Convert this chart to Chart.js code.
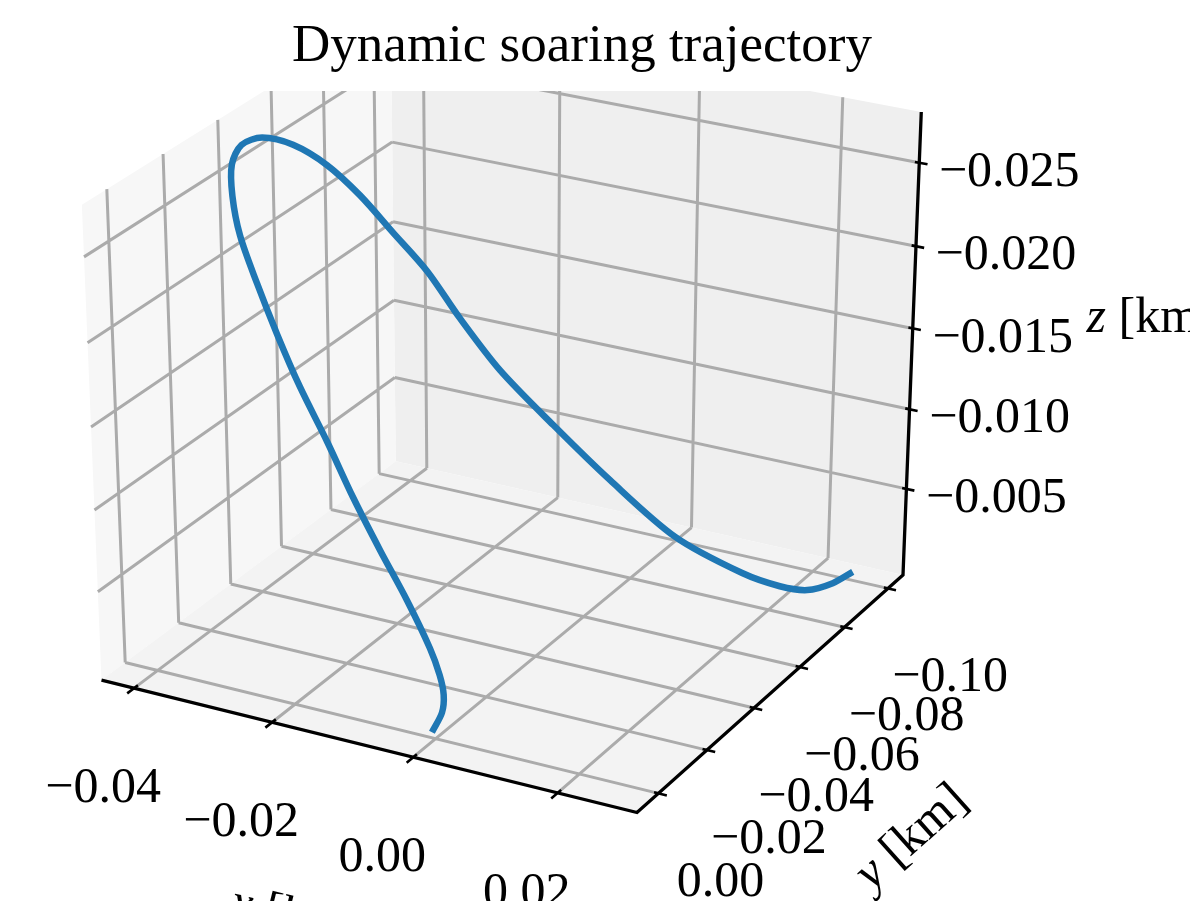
<!DOCTYPE html>
<html>
<head>
<meta charset="utf-8">
<title>Dynamic soaring trajectory</title>
<script src="https://cdn.jsdelivr.net/npm/chart.js@4.4.1/dist/chart.umd.min.js"></script>
<style>
  html, body { margin: 0; padding: 0; background: #ffffff; }
  #wrap { width: 1190px; height: 901px; }
</style>
</head>
<body>
<div id="wrap"><canvas id="chart" width="1190" height="901"></canvas></div>
<script>
// ===============================
// DYNAMIC SOARING TRAJECTORY – 3D LINE
// ===============================

// ---------- DATA (km) ----------
const trajX = [-0.0002, -0.0004, 0.0000, 0.0000, -0.0009, -0.0033, -0.0066, -0.0100, -0.0138, -0.0183,
               -0.0226, -0.0273, -0.0320, -0.0359, -0.0389, -0.0400, -0.0387, -0.0344, -0.0290, -0.0228,
               -0.0167, -0.0110, -0.0061, -0.0016, 0.0038, 0.0091, 0.0153, 0.0197, 0.0220, 0.0238,
               0.0252, 0.0266];
const trajY = [0.0009, -0.0036, -0.0032, -0.0017, -0.0005, 0.0015, 0.0025, 0.0032, 0.0023, 0.0002,
               -0.0031, -0.0083, -0.0146, -0.0221, -0.0298, -0.0363, -0.0406, -0.0409, -0.0394, -0.0351,
               -0.0309, -0.0283, -0.0272, -0.0302, -0.0359, -0.0436, -0.0529, -0.0686, -0.0784, -0.0852,
               -0.0924, -0.0970];
const trajZ = [0.0000, -0.0006, -0.0018, -0.0032, -0.0049, -0.0078, -0.0106, -0.0135, -0.0163, -0.0189,
               -0.0212, -0.0232, -0.0249, -0.0261, -0.0269, -0.0273, -0.0274, -0.0273, -0.0267, -0.0259,
               -0.0247, -0.0232, -0.0210, -0.0180, -0.0146, -0.0109, -0.0069, -0.0032, -0.0014, -0.0005,
               -0.0002, -0.0005];

// ---------- TICKS ----------
const xTicks = [-0.04, -0.02, 0.00, 0.02];
const yTicks = [0.00, -0.02, -0.04, -0.06, -0.08, -0.10];
const zTicks = [-0.025, -0.020, -0.015, -0.010, -0.005];
const xTickLabels = ["\u22120.04", "\u22120.02", "0.00", "0.02"];
const yTickLabels = ["0.00", "\u22120.02", "\u22120.04", "\u22120.06", "\u22120.08", "\u22120.10"];
const zTickLabels = ["\u22120.025", "\u22120.020", "\u22120.015", "\u22120.010", "\u22120.005"];

// axis box limits (y and z run reversed)
const xLim = [-0.0448, 0.0308];
const yLim = [0.0087, -0.107];
const zLim = [0.0005, -0.0280];

// ---------- VIEW ----------
const ELEV = 27.5, AZIM = -61.7, DIST = 10;
const er = ELEV * Math.PI / 180, ar = AZIM * Math.PI / 180;
const N = [Math.cos(er) * Math.cos(ar), Math.cos(er) * Math.sin(ar), Math.sin(er)];
const U = [-Math.sin(ar), Math.cos(ar), 0];
const V = [-Math.sin(er) * Math.cos(ar), -Math.sin(er) * Math.sin(ar), Math.cos(er)];
const dot = (a, b) => a[0] * b[0] + a[1] * b[1] + a[2] * b[2];

function project(x, y, z) {
  const q = [
    (x - xLim[0]) / (xLim[1] - xLim[0]) - 0.5,
    (y - yLim[0]) / (yLim[1] - yLim[0]) - 0.5,
    (z - zLim[0]) / (zLim[1] - zLim[0]) - 0.5
  ];
  const w = DIST - dot(N, q);
  return { x: dot(U, q) / w, y: dot(V, q) / w };
}

// where the box sits on the page (pixels)
const BOX_FRONT_X = 637, BOX_RIGHT_X = 903, BOX_TOP_Y = 112, BOX_BOTTOM_Y = 575;
const AREA_TOP = 91, W = 1190, H = 901;

const pFB = project(xLim[1], yLim[0], zLim[0]);
const pRB = project(xLim[1], yLim[1], zLim[0]);
const pRT = project(xLim[1], yLim[1], zLim[1]);
const SX = (BOX_RIGHT_X - BOX_FRONT_X) / (pRB.x - pFB.x);
const CX = BOX_FRONT_X - SX * pFB.x;
const SY = (BOX_BOTTOM_Y - BOX_TOP_Y) / (pRT.y - pRB.y);
const CY = BOX_TOP_Y + SY * pRT.y;

// ---------- GEOMETRY ----------
const GAP = { x: NaN, y: NaN };
function polyline(list) {
  const out = [];
  list.forEach((seg, i) => {
    if (i > 0) out.push(GAP);
    seg.forEach(p => out.push(project(p[0], p[1], p[2])));
  });
  return out;
}

const [x0, x1] = xLim, [y0, y1] = yLim, [z0, z1] = zLim;

const gridSegs = [];
xTicks.forEach(t => {
  gridSegs.push([[t, y0, z0], [t, y1, z0]]);
  gridSegs.push([[t, y1, z0], [t, y1, z1]]);
});
yTicks.forEach(t => {
  gridSegs.push([[x0, t, z0], [x1, t, z0]]);
  gridSegs.push([[x0, t, z0], [x0, t, z1]]);
});
zTicks.forEach(t => {
  gridSegs.push([[x0, y0, t], [x0, y1, t]]);
  gridSegs.push([[x0, y1, t], [x1, y1, t]]);
});

const dy = y1 - y0, dx = x1 - x0;
const tickSegs = [];
xTicks.forEach(t => tickSegs.push([[t, y0 + 0.012 * dy, z0], [t, y0 - 0.022 * dy, z0]]));
yTicks.forEach(t => tickSegs.push([[x1 - 0.008 * dx, t, z0], [x1 + 0.015 * dx, t, z0]]));
zTicks.forEach(t => tickSegs.push([[x1 - 0.008 * dx, y1, t], [x1 + 0.015 * dx, y1, t]]));

const axisSegs = [[[x0, y0, z0], [x1, y0, z0], [x1, y1, z0], [x1, y1, z1]]];

const floorPane = [[x0, y0, z0], [x1, y0, z0], [x1, y1, z0], [x0, y1, z0], [x0, y0, z0]];
const leftPane = [[x0, y0, z0], [x0, y1, z0], [x0, y1, z1], [x0, y0, z1], [x0, y0, z0]];
const backPane = [[x0, y1, z0], [x1, y1, z0], [x1, y1, z1], [x0, y1, z1], [x0, y1, z0]];

const curve = trajX.map((x, i) => project(x, trajY[i], trajZ[i]));

// ---------- TEXT ----------
const SERIF = "'Liberation Serif', 'Times New Roman', serif";
const TICK_FONT = "50px " + SERIF;

function drawParts(ctx, parts, cx, cy, angle) {
  ctx.save();
  ctx.translate(cx, cy);
  ctx.rotate(angle);
  ctx.textAlign = "left";
  ctx.textBaseline = "middle";
  let total = 0;
  const widths = parts.map(p => { ctx.font = p.font; const w = ctx.measureText(p.text).width; total += w; return w; });
  let x = -total / 2;
  parts.forEach((p, i) => { ctx.font = p.font; ctx.fillText(p.text, x, 0); x += widths[i]; });
  ctx.restore();
}

const textPlugin = {
  id: "axisText",
  afterDatasetsDraw(chart) {
    const ctx = chart.ctx;
    const sx = chart.scales.x, sy = chart.scales.y;
    const px = (x, y, z) => {
      const p = project(x, y, z);
      return [sx.getPixelForValue(p.x), sy.getPixelForValue(p.y)];
    };
    ctx.save();
    ctx.fillStyle = "#000000";
    ctx.font = TICK_FONT;
    ctx.textAlign = "center";
    ctx.textBaseline = "middle";

    xTicks.forEach((t, i) => {
      const [a, b] = px(t, y0, z0);
      ctx.fillText(xTickLabels[i], a - 31, b + 101);
    });
    yTicks.forEach((t, i) => {
      const [a, b] = px(x1, t, z0);
      ctx.fillText(yTickLabels[i], a + 62, b + 90);
    });
    zTicks.forEach((t, i) => {
      const [a, b] = px(x1, y1, t);
      ctx.fillText(zTickLabels[i], a + 90, b + 10);
    });

    // axis labels
    const italic = "italic 50px " + SERIF;
    const [lbx, lby] = px(x0, y0, z0), [fbx, fby] = px(x1, y0, z0);
    const [rbx, rby] = px(x1, y1, z0), [rtx, rty] = px(x1, y1, z1);
    const xAng = Math.atan2(fby - lby, fbx - lbx);
    const yAng = Math.atan2(rby - fby, rbx - fbx);
    drawParts(ctx, [{ text: "x", font: italic }, { text: " [km]", font: TICK_FONT }],
      (lbx + fbx) / 2 - 75, (lby + fby) / 2 + 172, xAng);
    drawParts(ctx, [{ text: "y", font: italic }, { text: " [km]", font: TICK_FONT }],
      (fbx + rbx) / 2 + 142, (fby + rby) / 2 + 144, yAng);
    drawParts(ctx, [{ text: "z", font: italic }, { text: " [km]", font: TICK_FONT }],
      (rbx + rtx) / 2 + 239, (rby + rty) / 2 - 25, 0);

    // title
    ctx.font = "53px " + SERIF;
    ctx.textAlign = "center";
    ctx.fillText("Dynamic soaring trajectory", 582, 47);
    ctx.restore();
  }
};

// ---------- CHART ----------
const line = (data, color, width, extra) => Object.assign({
  data, showLine: true, borderColor: color, borderWidth: width,
  pointRadius: 0, pointHoverRadius: 0, tension: 0, fill: false, spanGaps: false
}, extra || {});

new Chart(document.getElementById("chart"), {
  type: "scatter",
  data: {
    datasets: [
      line(curve, "#1f77b4", 6.5, { tension: 0.3, borderCapStyle: "butt", borderJoinStyle: "round" }),
      line(polyline(axisSegs), "#000000", 3.3),
      line(polyline(tickSegs), "#000000", 2.6),
      line(polyline(gridSegs), "#ababab", 3),
      line(polyline([floorPane]), "rgba(0,0,0,0)", 0, { fill: "shape", backgroundColor: "#f3f3f3" }),
      line(polyline([leftPane]), "rgba(0,0,0,0)", 0, { fill: "shape", backgroundColor: "#f7f7f7" }),
      line(polyline([backPane]), "rgba(0,0,0,0)", 0, { fill: "shape", backgroundColor: "#efefef" })
    ]
  },
  options: {
    responsive: false,
    animation: false,
    events: [],
    devicePixelRatio: 1,
    layout: { padding: { top: AREA_TOP, left: 0, right: 0, bottom: 0 } },
    scales: {
      x: { type: "linear", display: false, min: (0 - CX) / SX, max: (W - CX) / SX },
      y: { type: "linear", display: false, min: (CY - H) / SY, max: (CY - AREA_TOP) / SY }
    },
    plugins: {
      legend: { display: false },
      tooltip: { enabled: false },
      title: { display: false }
    }
  },
  plugins: [textPlugin]
});
</script>
</body>
</html>
